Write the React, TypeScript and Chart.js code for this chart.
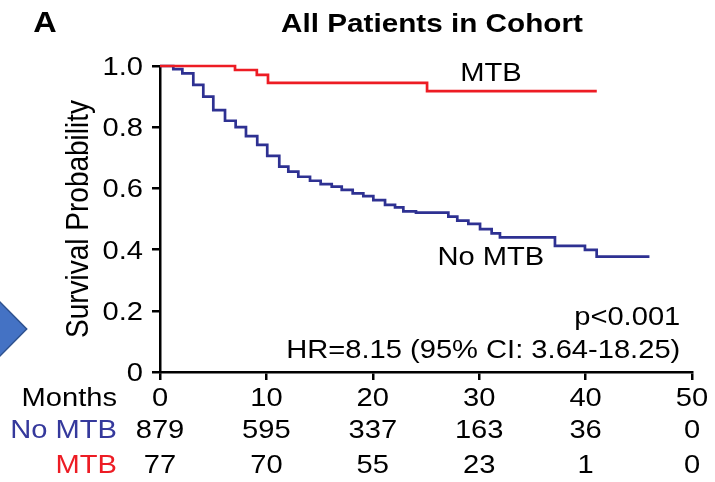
import React, { useEffect, useRef } from "react";
import { Chart, registerables } from "chart.js";

Chart.register(...registerables);

// ---- data ----
const xTickValues = [0, 10, 20, 30, 40, 50];
const xTickLabels = ["0", "10", "20", "30", "40", "50"];
const yTickValues = [0, 0.2, 0.4, 0.6, 0.8, 1.0];
const yTickLabels = ["0", "0.2", "0.4", "0.6", "0.8", "1.0"];

const atRiskNoMTB = [879, 595, 337, 163, 36, 0];
const atRiskMTB = [77, 70, 55, 23, 1, 0];

const mtbTimes = [0, 7.05, 9.1, 10.15, 25.1, 41.05];
const mtbSurv = [1.0, 0.987, 0.971, 0.945, 0.918, 0.918];

const noMtbTimes = [
  0, 1.25, 2.1, 3.13, 4.07, 5.01, 6.11, 7.11, 8.08, 9.14, 10.08, 11.21, 12.06,
  13.0, 14.1, 15.1, 16.14, 17.08, 18.11, 19.11, 20.05, 21.15, 22.09, 22.87,
  24.06, 27.1, 27.94, 28.98, 30.08, 31.17, 31.95, 37.12, 39.94, 41.04, 46.0,
];
const noMtbSurv = [
  1.0, 0.99, 0.976, 0.938, 0.9, 0.856, 0.821, 0.8, 0.771, 0.742, 0.706, 0.671,
  0.655, 0.638, 0.625, 0.614, 0.606, 0.595, 0.584, 0.575, 0.562, 0.546, 0.538,
  0.525, 0.521, 0.508, 0.495, 0.484, 0.467, 0.453, 0.44, 0.412, 0.399, 0.377,
  0.377,
];

const titleText = "All Patients in Cohort";
const panelLetter = "A";
const yTitle = "Survival Probability";
const rowLabels = ["Months", "No MTB", "MTB"];
const pText = "p<0.001";
const hrText = "HR=8.15 (95% CI: 3.64-18.25)";

const RED = "#ED1C24";
const BLUE = "#2E3192";
const ROWBLUE = "#35399C";
const FONT = "'Liberation Sans', Arial, sans-serif";
const SX = 1.12;

function sText(
  ctx: CanvasRenderingContext2D,
  text: string,
  x: number,
  y: number,
  align: "left" | "center" | "right",
  font: string,
  color: string
) {
  ctx.save();
  ctx.font = font;
  ctx.fillStyle = color;
  ctx.textAlign = "left";
  ctx.textBaseline = "alphabetic";
  const w = ctx.measureText(text).width * SX;
  const left = align === "center" ? x - w / 2 : align === "right" ? x - w : x;
  ctx.translate(left, y);
  ctx.scale(SX, 1);
  ctx.fillText(text, 0, 0);
  ctx.restore();
}

const textPlugin = {
  id: "kmText",
  afterDraw(chart: any) {
    const ctx: CanvasRenderingContext2D = chart.ctx;
    const xs = chart.scales.x;
    const ys = chart.scales.y;
    const area = chart.chartArea;
    const f26 = `26px ${FONT}`;

    // decorative arrow at left edge
    ctx.save();
    ctx.beginPath();
    ctx.moveTo(-4, 298);
    ctx.lineTo(26.7, 329);
    ctx.lineTo(-4, 360);
    ctx.closePath();
    ctx.fillStyle = "#4472C4";
    ctx.fill();
    ctx.lineWidth = 1.5;
    ctx.strokeStyle = "#2F528F";
    ctx.stroke();
    ctx.restore();

    // panel letter and title
    sText(ctx, panelLetter, 45, 32, "center", `bold 29px ${FONT}`, "#000");
    sText(ctx, titleText, (area.left + area.right) / 2 + 6, 31.5, "center", `bold 26.5px ${FONT}`, "#000");

    // y title (rotated)
    ctx.save();
    ctx.translate(area.left - 72, (area.top + area.bottom) / 2);
    ctx.rotate(-Math.PI / 2);
    ctx.scale(1, SX);
    ctx.font = `28px ${FONT}`;
    ctx.fillStyle = "#000";
    ctx.textAlign = "center";
    ctx.textBaseline = "alphabetic";
    ctx.fillText(yTitle, 0, 0);
    ctx.restore();

    // y tick labels
    yTickValues.forEach((v, i) => {
      sText(ctx, yTickLabels[i], area.left - 17, ys.getPixelForValue(v) + 9, "right", f26, "#000");
    });

    // x tick labels and numbers at risk
    const rowBase = [area.bottom + 34, area.bottom + 66, area.bottom + 101];
    xTickValues.forEach((v, i) => {
      const px = xs.getPixelForValue(v);
      sText(ctx, xTickLabels[i], px, rowBase[0], "center", f26, "#000");
      sText(ctx, String(atRiskNoMTB[i]), px, rowBase[1], "center", f26, "#000");
      sText(ctx, String(atRiskMTB[i]), px, rowBase[2], "center", f26, "#000");
    });
    const rowColors = ["#000", ROWBLUE, RED];
    rowLabels.forEach((t, i) => {
      sText(ctx, t, area.left - 43, rowBase[i], "right", f26, rowColors[i]);
    });

    // curve labels
    sText(ctx, "MTB", xs.getPixelForValue(31.1), ys.getPixelForValue(0.952), "center", f26, "#000");
    sText(ctx, "No MTB", xs.getPixelForValue(31.1), ys.getPixelForValue(0.35), "center", f26, "#000");

    // statistics
    sText(ctx, pText, xs.getPixelForValue(48.9), ys.getPixelForValue(0.154), "right", f26, "#000");
    sText(ctx, hrText, xs.getPixelForValue(48.9), ys.getPixelForValue(0.045), "right", f26, "#000");
  },
};

export default function App() {
  const ref = useRef<HTMLCanvasElement | null>(null);

  useEffect(() => {
    if (!ref.current) return;
    const chart = new Chart(ref.current, {
      type: "line",
      data: {
        datasets: [
          {
            label: "MTB",
            data: mtbTimes.map((t, i) => ({ x: t, y: mtbSurv[i] })),
            borderColor: RED,
            borderWidth: 2.7,
            pointRadius: 0,
            stepped: "before",
            fill: false,
            clip: false as any,
          },
          {
            label: "No MTB",
            data: noMtbTimes.map((t, i) => ({ x: t, y: noMtbSurv[i] })),
            borderColor: BLUE,
            borderWidth: 2.7,
            pointRadius: 0,
            stepped: "before",
            fill: false,
            clip: false as any,
          },
        ],
      },
      options: {
        responsive: false,
        animation: false,
        layout: { padding: { left: 160, right: 23, top: 66, bottom: 110 } },
        plugins: {
          legend: { display: false },
          tooltip: { enabled: false },
          title: { display: false },
        },
        scales: {
          x: {
            type: "linear",
            min: 0,
            max: 50,
            afterBuildTicks: (s: any) => {
              s.ticks = xTickValues.map((v) => ({ value: v }));
            },
            afterFit: (s: any) => {
              s.height = 0;
            },
            ticks: { display: false },
            grid: {
              display: true,
              drawOnChartArea: false,
              drawTicks: true,
              tickLength: 8,
              color: "#000",
              lineWidth: 2.5,
            },
            border: { display: true, color: "#000", width: 2.5 },
          },
          y: {
            type: "linear",
            min: 0,
            max: 1,
            afterBuildTicks: (s: any) => {
              s.ticks = yTickValues.map((v) => ({ value: v }));
            },
            afterFit: (s: any) => {
              s.width = 0;
            },
            ticks: { display: false },
            grid: {
              display: true,
              drawOnChartArea: false,
              drawTicks: true,
              tickLength: 8,
              color: "#000",
              lineWidth: 2.5,
            },
            border: { display: true, color: "#000", width: 2.5 },
          },
        },
      },
      plugins: [textPlugin],
    });
    return () => chart.destroy();
  }, []);

  return (
    <div style={{ position: "fixed", left: 0, top: 0, width: 715, height: 482, background: "#fff" }}>
      <canvas ref={ref} width={715} height={482} style={{ display: "block", width: 715, height: 482 }} />
    </div>
  );
}
